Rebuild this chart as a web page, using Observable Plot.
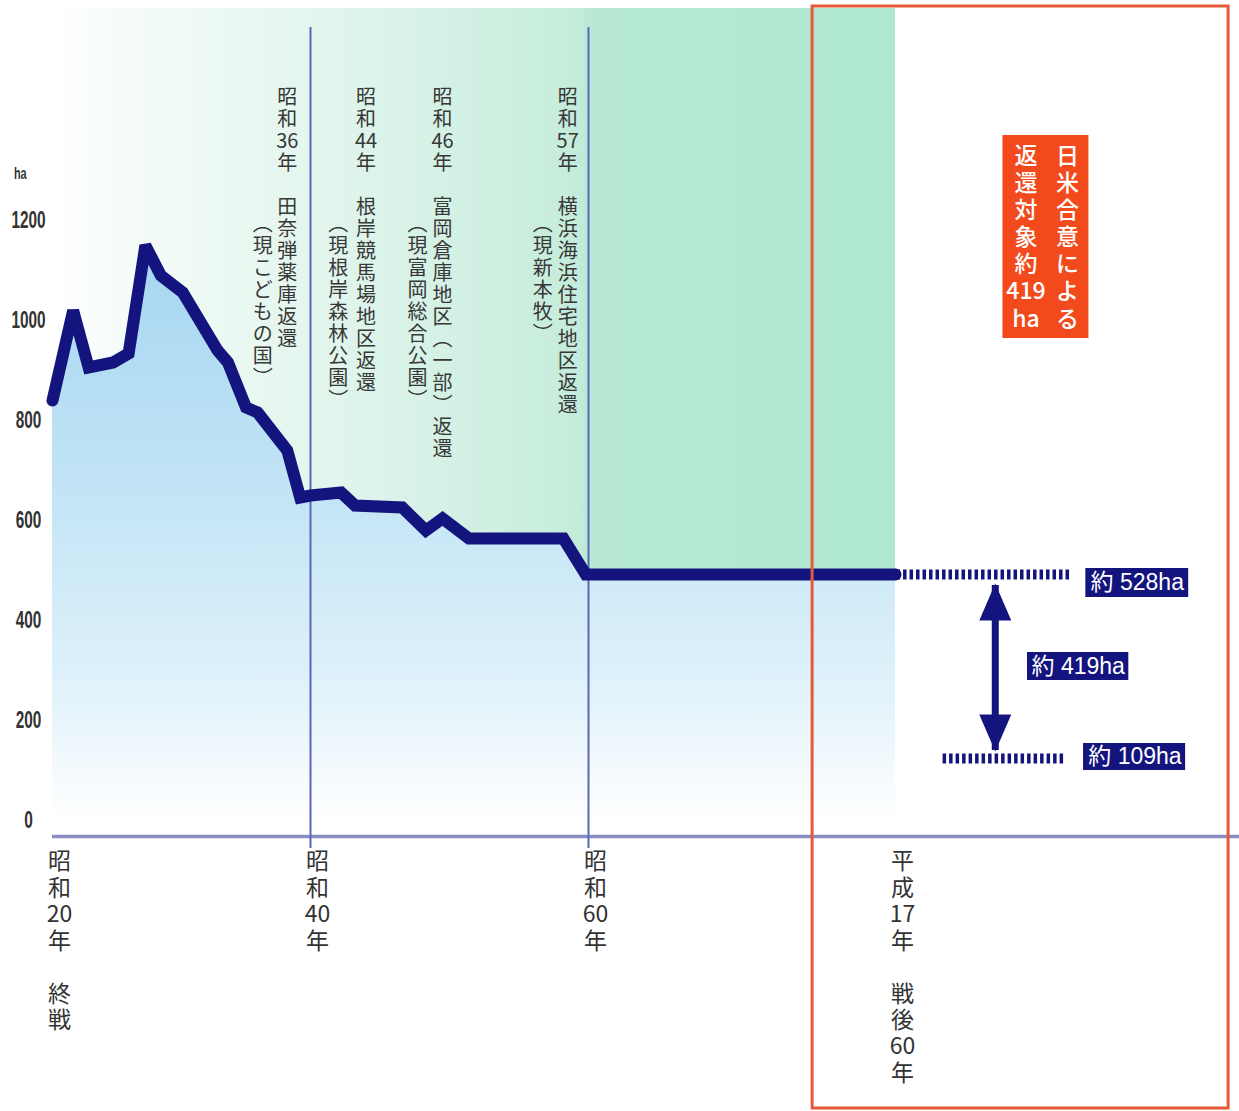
<!DOCTYPE html>
<html><head><meta charset="utf-8">
<script src="https://cdn.jsdelivr.net/npm/d3@7"></script>
<script src="https://cdn.jsdelivr.net/npm/@observablehq/plot@0.6"></script>
<style>html,body{margin:0;padding:0;background:#fff;overflow:hidden}#chart svg{display:block}</style>
</head><body><div id="chart"></div>
<script>
// ---------- data (x in 昭和 years, y in ha) ----------
const showaYear = [20, 21.6, 22.8, 24.7, 25.9, 27.2, 28.4, 30.1, 32.8, 33.6, 35.0, 35.9, 38.2, 39.2, 40, 42.2, 43.2, 46.6, 48.3, 49.5, 51.4, 58.2, 59.8, 80];
const hectares  = [840, 1020, 906, 916, 934, 1150, 1090, 1056, 940, 916, 826, 816, 740, 646, 650, 656, 630, 626, 580, 604, 564, 564, 492, 492];

const yTicks = [0, 200, 400, 600, 800, 1000, 1200];
const yUnit = "ha";
const xTicks = [20, 40, 60, 80];
const xTickLabels = ["昭和20年　終戦", "昭和40年", "昭和60年", "平成17年　戦後60年"];
const dividerYears = [40, 60];

const releaseMain = ["昭和36年　田奈弾薬庫返還", "昭和44年　根岸競馬場地区返還", "昭和46年　富岡倉庫地区（一部）返還", "昭和57年　横浜海浜住宅地区返還"];
const releaseSub  = ["（現こどもの国）", "（現根岸森林公園）", "（現富岡総合公園）", "（現新本牧）"];

const agreementRight = "日米合意による";
const agreementLeft  = "返還対象約419ha";
const levelLabels = ["約 528ha", "約 419ha", "約 109ha"];
const levelValues = [492, 124]; // drawn positions of the current and remaining levels

// ---------- layout (annotation placement in data units) ----------
const mainX = [38.2, 44.0, 49.5, 58.5];
const subX  = [36.3, 42.0, 47.7, 56.7];
const mainTop = 1464, subTop = 1210;
const band = {x1: 20, x2: 80, y1: 0, y2: 1624};
const redBox = {x1: 74.6, x2: 101.7, y1: -576, y2: 1628};
const orangeBox = {x1: 87.0, x2: 92.6, y1: 964, y2: 1370};
const labelBoxes = [
  {x1: 92.4, x2: 99.1, y1: 446, y2: 504, cx: 95.75, cy: 476},
  {x1: 88.6, x2: 95.2, y1: 280, y2: 336, cx: 91.9, cy: 308},
  {x1: 92.25, x2: 98.9, y1: 100, y2: 154, cx: 95.6, cy: 128}
].map((b, i) => ({...b, label: levelLabels[i]}));
const dashes = [
  {y: levelValues[0], x1: 80.1, x2: 91.5},
  {y: levelValues[1], x1: 83.1, x2: 91.1}
];
const arrowX = 86.5;

// ---------- helpers ----------
const vert = s => s.replace(/（/g, "︵").replace(/）/g, "︶").match(/[0-9]+|[A-Za-z]+|./gu).join("\n");
const series = showaYear.map((x, i) => ({x, y: hectares[i]}));
const navy = "#14147e";
const latin = "'Liberation Sans', sans-serif";
const tri = {draw(ctx, size) {
  const r = Math.sqrt(size / Math.PI), h = r * 1.15;
  ctx.moveTo(0, -h); ctx.lineTo(r, h); ctx.lineTo(-r, h); ctx.closePath();
}};

const plot = Plot.plot({
  width: 1239, height: 1111,
  marginLeft: 52, marginRight: 0, marginTop: 0, marginBottom: 275,
  x: {type: "linear", domain: xTicks, range: [52, 310, 588, 895]},
  y: {domain: [0, 1200], range: [820, 220]},
  style: {fontFamily: "'Noto Sans CJK JP', sans-serif", background: "#fff", overflow: "hidden"},
  marks: [
    Plot.rect([band], {x1: "x1", x2: "x2", y1: "y1", y2: "y2", fill: "url(#greenGrad)"}),
    Plot.areaY(series, {x: "x", y: "y", fill: "url(#blueGrad)"}),
    Plot.ruleY([-32], {stroke: "#8c8cc4", strokeWidth: 3.5}),
    Plot.ruleX(dividerYears, {y1: -56, y2: 1586, stroke: "#5a66b8", strokeWidth: 2}),
    Plot.line(series, {x: "x", y: "y", stroke: navy, strokeWidth: 12, strokeLinejoin: "miter", strokeMiterlimit: 3}),
    Plot.text(releaseMain.map((t, i) => ({x: mainX[i], t: vert(t)})), {x: "x", y: mainTop, text: "t", lineAnchor: "top", fontSize: 20, lineHeight: 1.1, fill: "#383838"}),
    Plot.text(releaseSub.map((t, i) => ({x: subX[i], t: vert(t)})), {x: "x", y: subTop, text: "t", lineAnchor: "top", fontSize: 20, lineHeight: 1.1, fill: "#383838"}),
    Plot.ruleY(dashes, {y: "y", x1: "x1", x2: "x2", stroke: navy, strokeWidth: 10, strokeDasharray: "3.5,3"}),
    Plot.ruleX([arrowX], {y1: 140, y2: 470, stroke: navy, strokeWidth: 7}),
    Plot.dot([{y: 437, rot: 0}, {y: 175, rot: 180}], {x: arrowX, y: "y", rotate: "rot", symbol: tri, r: 16, fill: navy, stroke: "none"}),
    Plot.rect(labelBoxes, {x1: "x1", x2: "x2", y1: "y1", y2: "y2", fill: navy}),
    Plot.text(labelBoxes, {x: "cx", y: "cy", text: "label", fill: "#fff", fontSize: 23, fontFamily: "'Liberation Sans', 'Noto Sans CJK JP', sans-serif"}),
    Plot.rect([redBox], {x1: "x1", x2: "x2", y1: "y1", y2: "y2", fill: "none", stroke: "#e55a3a", strokeWidth: 3}),
    Plot.rect([orangeBox], {x1: "x1", x2: "x2", y1: "y1", y2: "y2", fill: "#f24a1c"}),
    Plot.text([{x: 91.2, t: vert(agreementRight)}, {x: 88.5, t: vert(agreementLeft)}], {x: "x", y: 1352, text: "t", lineAnchor: "top", fontSize: 23, lineHeight: 1.18, fill: "#fff", fontWeight: 500}),
    Plot.text([yUnit], {x: 17.5, y: 1294, text: d => d, fontSize: 17, fontWeight: "bold", fontFamily: latin, fill: "#333", className: "narrow"}),
    Plot.axisY({ticks: yTicks, tickFormat: d => String(d), tickSize: 0, tickPadding: 24, textAnchor: "middle", label: null, fontSize: 24, fontWeight: "bold", fontFamily: latin, color: "#333"}),
    Plot.axisX({ticks: xTicks, tickFormat: d => vert(xTickLabels[xTicks.indexOf(d)]), tickSize: 0, tickPadding: 14, fontSize: 23, lineHeight: 1.15, dx: 7, label: null, color: "#333"})
  ]
});

const svg = d3.select(plot);
const defs = svg.insert("defs", ":first-child");
const gg = defs.append("linearGradient").attr("id", "greenGrad").attr("x1", 0).attr("x2", 1).attr("y1", 0).attr("y2", 0);
[[0, "#ffffff"], [0.1, "#f4fbf8"], [0.3, "#e4f6ee"], [0.47, "#d4f1e5"], [0.62, "#c5ecdb"], [0.645, "#b7e9d4"], [1, "#afe7cf"]]
  .forEach(([o, c]) => gg.append("stop").attr("offset", o).attr("stop-color", c));
const bg = defs.append("linearGradient").attr("id", "blueGrad").attr("x1", 0).attr("x2", 0).attr("y1", 0).attr("y2", 1);
[[0, "#a5d6f1"], [0.45, "#c4e5f6"], [0.75, "#def1fa"], [1, "#ffffff"]]
  .forEach(([o, c]) => bg.append("stop").attr("offset", o).attr("stop-color", c));

document.getElementById("chart").append(plot);

// condense the narrow numeric labels (the reference uses a condensed face)
svg.selectAll('g[aria-label="y-axis tick label"] text, g.narrow text').each(function () {
  const len = this.getComputedTextLength();
  this.setAttribute("textLength", (len * 0.64).toFixed(1));
  this.setAttribute("lengthAdjust", "spacingAndGlyphs");
});
</script>
</body></html>
